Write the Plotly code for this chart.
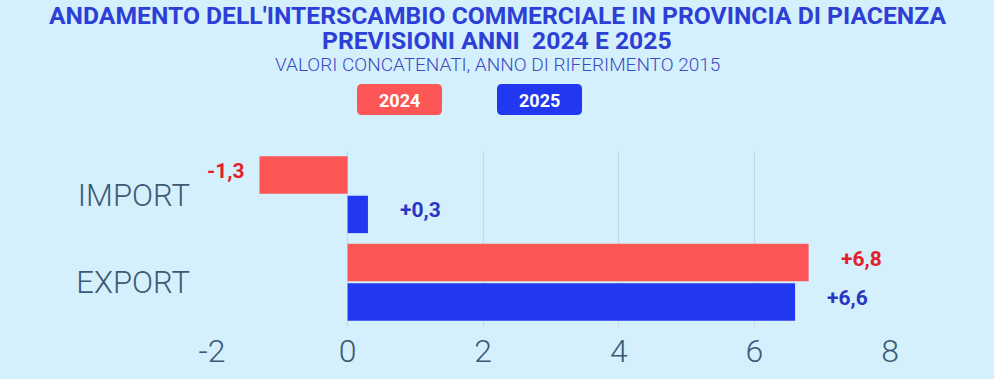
import plotly.graph_objects as go

categories = ["IMPORT", "EXPORT"]
years = ["2024", "2025"]
values_2024 = [-1.3, 6.8]
values_2025 = [0.3, 6.6]
labels_2024 = ["-1,3", "+6,8"]
labels_2025 = ["+0,3", "+6,6"]
x_ticks = [-2, 0, 2, 4, 6, 8]

BG = "#d4f0fc"
RED = "#fd5656"
BLUE = "#2238f0"
RED_TXT = "#e3202a"
BLUE_TXT = "#2a35c4"
AXIS_TXT = "#3d5a75"
TITLE_C = "#2d3fd6"
FONT = "Roboto, sans-serif"

W, H = 994, 379
L, R, T, B = 212, 104, 151, 53
PW, PH = W - L - R, H - T - B

def px(x):
    return (x - L) / PW

def py(y):
    return (H - B - y) / PH

fig = go.Figure()
fig.add_trace(go.Bar(y=categories, x=values_2024, name=years[0], orientation="h",
                     marker=dict(color=RED, line=dict(width=0))))
fig.add_trace(go.Bar(y=categories, x=values_2025, name=years[1], orientation="h",
                     marker=dict(color=BLUE, line=dict(width=0))))

annotations = []
offs = [-0.225, 0.225]
for vals, labs, col, off in [(values_2024, labels_2024, RED_TXT, offs[0]),
                             (values_2025, labels_2025, BLUE_TXT, offs[1])]:
    for i, (v, t) in enumerate(zip(vals, labs)):
        annotations.append(dict(
            x=v, y=i + off, xref="x", yref="y", text=f"<b>{t}</b>", showarrow=False,
            xanchor="left" if v >= 0 else "right", yanchor="middle",
            xshift=30 if v >= 0 else -12, yshift=4,
            font=dict(family=FONT, size=21, color=col)))

# titles
annotations.append(dict(x=px(497), y=py(15), xref="paper", yref="paper", showarrow=False,
                        text="<b>ANDAMENTO DELL'INTERSCAMBIO COMMERCIALE IN PROVINCIA DI PIACENZA</b>",
                        height=24, borderpad=0,
                        font=dict(family=FONT, size=24.7, color=TITLE_C), xanchor="center", yanchor="middle"))
annotations.append(dict(x=px(497), y=py(40), xref="paper", yref="paper", showarrow=False,
                        text="<b>PREVISIONI ANNI  2024 E 2025</b>",
                        height=24, borderpad=0,
                        font=dict(family=FONT, size=24.7, color=TITLE_C), xanchor="center", yanchor="middle"))
annotations.append(dict(x=px(497), y=py(64), xref="paper", yref="paper", showarrow=False,
                        text="VALORI CONCATENATI, ANNO DI RIFERIMENTO 2015",
                        height=19, borderpad=0,
                        font=dict(family=FONT, size=19, color="#3b4cc4", weight=300),
                        xanchor="center", yanchor="middle"))

# legend boxes
shapes = []
def rounded(x0, y0, x1, y1, r=5):
    X = lambda v: px(v)
    Y = lambda v: py(v)
    return (f"M {X(x0+r)},{Y(y0)} L {X(x1-r)},{Y(y0)} Q {X(x1)},{Y(y0)} {X(x1)},{Y(y0+r)} "
            f"L {X(x1)},{Y(y1-r)} Q {X(x1)},{Y(y1)} {X(x1-r)},{Y(y1)} "
            f"L {X(x0+r)},{Y(y1)} Q {X(x0)},{Y(y1)} {X(x0)},{Y(y1-r)} "
            f"L {X(x0)},{Y(y0+r)} Q {X(x0)},{Y(y0)} {X(x0+r)},{Y(y0)} Z")

for (x0, x1), col, yr in [((357, 442), RED, years[0]), ((497, 582), BLUE, years[1])]:
    shapes.append(dict(type="path", xref="paper", yref="paper", path=rounded(x0, 84, x1, 115),
                       fillcolor=col, line=dict(width=0), layer="above"))
    annotations.append(dict(x=px((x0 + x1) / 2), y=py(100), xref="paper", yref="paper", showarrow=False,
                            text=f"<b>{yr}</b>", font=dict(family=FONT, size=18, color="white"),
                            xanchor="center", yanchor="middle"))

fig.update_layout(
    width=W, height=H,
    margin=dict(l=L, r=R, t=T, b=B, autoexpand=False),
    paper_bgcolor=BG, plot_bgcolor=BG,
    barmode="group", bargap=0.10, bargroupgap=0.05,
    showlegend=False,
    annotations=annotations, shapes=shapes,
    xaxis=dict(range=[-2, 8], tickvals=x_ticks, ticktext=[str(v) for v in x_ticks],
               showgrid=True, gridcolor="#c3d8e4", gridwidth=1, zeroline=False,
               showline=False, ticks="", ticklabelstandoff=3, automargin=False,
               tickfont=dict(family=FONT, size=32, color=AXIS_TXT, weight=300)),
    yaxis=dict(autorange="reversed", showgrid=False, zeroline=False, showline=False,
               ticks="", ticklabelstandoff=21, automargin=False,
               tickfont=dict(family=FONT, size=31, color=AXIS_TXT, weight=300)),
)

fig.write_html("out.html", config={"displayModeBar": False},
               post_script="document.body.style.margin='0';")
